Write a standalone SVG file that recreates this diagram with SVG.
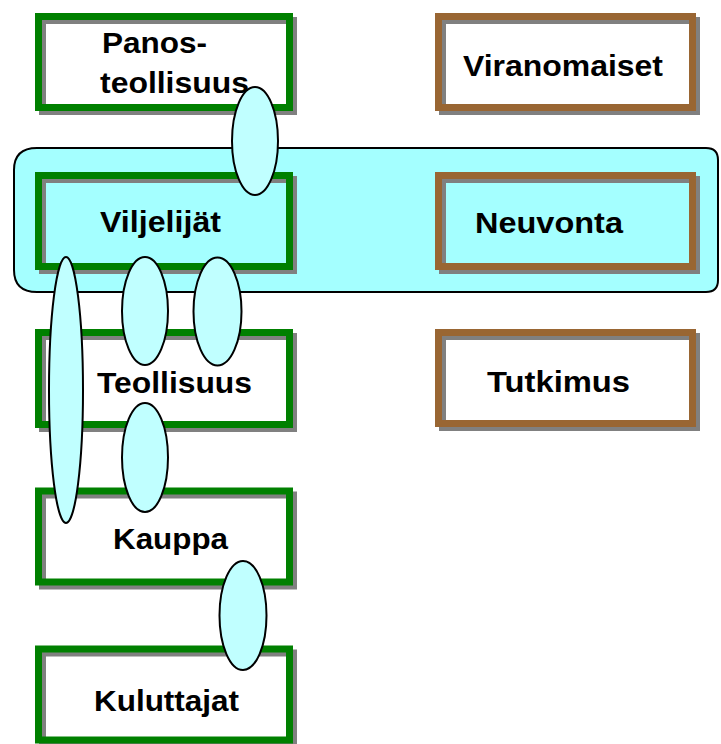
<svg xmlns="http://www.w3.org/2000/svg" width="721" height="744" viewBox="0 0 721 744">
  <style>
    .shadow { fill: none; stroke: #808080; stroke-width: 7; }
    .green { stroke: #008000; stroke-width: 7; }
    .brown { stroke: #996633; stroke-width: 7; }
    .white { fill: #ffffff; }
    .label { font-family: "Liberation Sans", Arial, sans-serif; font-weight: bold; font-size: 29.5px; fill: #000000; }
    .link { fill: #c0ffff; stroke: #000000; stroke-width: 2; }
  </style>

  <!-- shared farming / advisory band -->
  <g id="band">
    <path d="M 37 148 L 706 148 Q 718 148 718 160 L 718 280 Q 718 292 706 292 L 37 292 Q 14 292 14 270 L 14 170 Q 14 148 37 148 Z" fill="#a4ffff" stroke="#000000" stroke-width="2"/>
  </g>

  <!-- value chain column -->
  <g id="panos">
    <rect x="38.5" y="16.5" width="251" height="91" class="white"/>
    <rect x="42.5" y="20.5" width="251" height="91" class="shadow"/>
    <rect x="38.5" y="16.5" width="251" height="91" class="green" fill="none"/>
    <text class="label" x="102" y="53" textLength="105" lengthAdjust="spacingAndGlyphs">Panos-</text>
    <text class="label" x="100" y="93" textLength="149" lengthAdjust="spacingAndGlyphs">teollisuus</text>
  </g>

  <g id="viljelijat">
    <rect x="42.5" y="179.5" width="251" height="91" class="shadow"/>
    <rect x="38.5" y="175.5" width="251" height="91" class="green" fill="none"/>
    <text class="label" x="100" y="232" textLength="121" lengthAdjust="spacingAndGlyphs">Viljelijät</text>
  </g>

  <g id="teollisuus">
    <rect x="38.5" y="332.5" width="251" height="92" class="white"/>
    <rect x="42.5" y="336.5" width="251" height="92" class="shadow"/>
    <rect x="38.5" y="332.5" width="251" height="92" class="green" fill="none"/>
    <text class="label" x="97" y="393" textLength="155" lengthAdjust="spacingAndGlyphs">Teollisuus</text>
  </g>

  <g id="kauppa">
    <rect x="38.5" y="491" width="251" height="91" class="white"/>
    <rect x="42.5" y="495" width="251" height="91" class="shadow"/>
    <rect x="38.5" y="491" width="251" height="91" class="green" fill="none"/>
    <text class="label" x="113" y="549" textLength="115" lengthAdjust="spacingAndGlyphs">Kauppa</text>
  </g>

  <g id="kuluttajat">
    <rect x="38.5" y="649" width="251" height="91" class="white"/>
    <rect x="42.5" y="653" width="251" height="91" class="shadow"/>
    <rect x="38.5" y="649" width="251" height="91" class="green" fill="none"/>
    <text class="label" x="94" y="711" textLength="145" lengthAdjust="spacingAndGlyphs">Kuluttajat</text>
  </g>

  <!-- public sector column -->
  <g id="viranomaiset">
    <rect x="438.5" y="16.5" width="254" height="91" class="white"/>
    <rect x="442.5" y="20.5" width="254" height="91" class="shadow"/>
    <rect x="438.5" y="16.5" width="254" height="91" class="brown" fill="none"/>
    <text class="label" x="463" y="76" textLength="200" lengthAdjust="spacingAndGlyphs">Viranomaiset</text>
  </g>

  <g id="neuvonta">
    <rect x="442.5" y="179.5" width="254" height="91" class="shadow"/>
    <rect x="438.5" y="175.5" width="254" height="91" class="brown" fill="none"/>
    <text class="label" x="475" y="233" textLength="148" lengthAdjust="spacingAndGlyphs">Neuvonta</text>
  </g>

  <g id="tutkimus">
    <rect x="438.5" y="332.5" width="254" height="91" class="white"/>
    <rect x="442.5" y="336.5" width="254" height="91" class="shadow"/>
    <rect x="438.5" y="332.5" width="254" height="91" class="brown" fill="none"/>
    <text class="label" x="487" y="392" textLength="143" lengthAdjust="spacingAndGlyphs">Tutkimus</text>
  </g>

  <!-- links between actors -->
  <g id="connectors">
    <ellipse class="link" cx="255" cy="141" rx="23" ry="54"/>
    <ellipse class="link" cx="66" cy="390" rx="17" ry="133"/>
    <ellipse class="link" cx="145" cy="311" rx="23" ry="54"/>
    <ellipse class="link" cx="217.5" cy="311.5" rx="24" ry="54"/>
    <ellipse class="link" cx="145" cy="457.5" rx="23" ry="54.5"/>
    <ellipse class="link" cx="243" cy="615.5" rx="23.5" ry="54.5"/>
  </g>
</svg>
